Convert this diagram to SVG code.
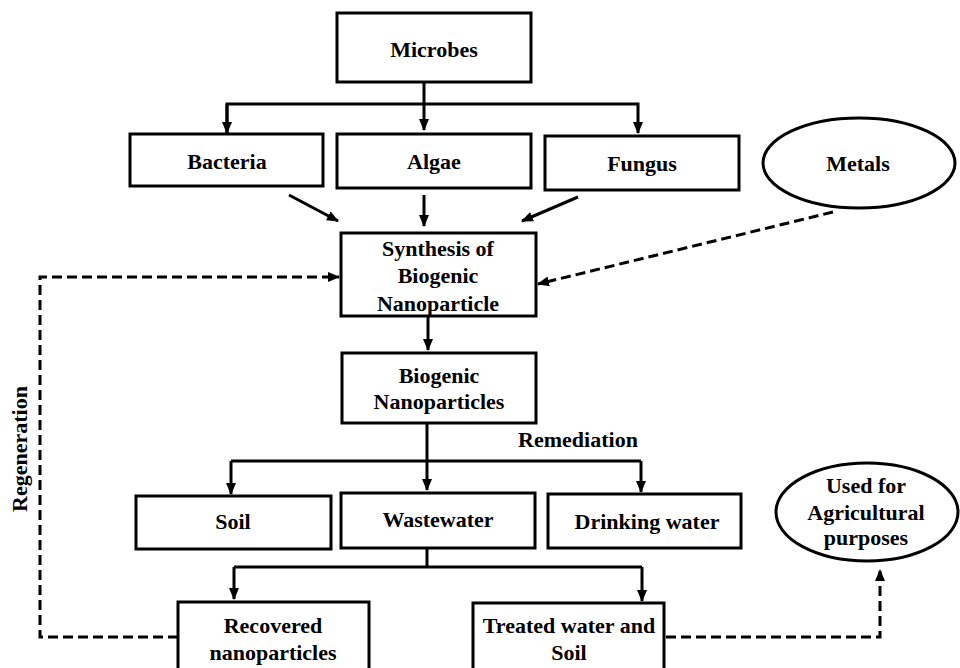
<svg xmlns="http://www.w3.org/2000/svg" width="960" height="668" viewBox="0 0 960 668">
<style>
.box{fill:#fff;stroke:#000;stroke-width:3}
.t{font-family:"Liberation Serif","Times New Roman",serif;font-weight:bold;font-size:22px;text-anchor:middle;fill:#000}
.c{fill:none;stroke:#000;stroke-width:3}
.d{fill:none;stroke:#000;stroke-width:3;stroke-dasharray:10 5}
</style>
<defs>
<marker id="ah" markerUnits="userSpaceOnUse" markerWidth="12" markerHeight="10" refX="11" refY="5" orient="auto">
<path d="M0,0 L12,5 L0,10 z" fill="#000"/>
</marker>
</defs>
<rect width="960" height="668" fill="#fff"/>
<g id="connectors">
<line class="c" x1="424" y1="82" x2="424" y2="130" marker-end="url(#ah)"/>
<polyline class="c" points="227,133 227,104 638,104 638,133" marker-end="url(#ah)"/>
<line class="c" x1="227" y1="104" x2="227" y2="133" marker-end="url(#ah)"/>
<line class="c" x1="289" y1="195" x2="338" y2="221" marker-end="url(#ah)"/>
<line class="c" x1="424" y1="195" x2="424" y2="226" marker-end="url(#ah)"/>
<line class="c" x1="578" y1="197" x2="522" y2="221" marker-end="url(#ah)"/>
<line class="d" x1="833" y1="212" x2="538" y2="284" marker-end="url(#ah)"/>
<line class="c" x1="428" y1="316" x2="428" y2="350" marker-end="url(#ah)"/>
<line class="c" x1="427" y1="423" x2="427" y2="490" marker-end="url(#ah)"/>
<line class="c" x1="231" y1="461" x2="641" y2="461"/>
<line class="c" x1="231" y1="461" x2="231" y2="494" marker-end="url(#ah)"/>
<line class="c" x1="641" y1="461" x2="641" y2="492" marker-end="url(#ah)"/>
<line class="c" x1="427" y1="548" x2="427" y2="567"/>
<line class="c" x1="234" y1="567" x2="642" y2="567"/>
<line class="c" x1="234" y1="567" x2="234" y2="599" marker-end="url(#ah)"/>
<line class="c" x1="642" y1="567" x2="642" y2="601" marker-end="url(#ah)"/>
<polyline class="d" points="178,637 40,637 40,277 339,277" marker-end="url(#ah)"/>
<polyline class="d" points="666,637 880,637 880,570" marker-end="url(#ah)"/>
</g>
<g id="microbes"><rect class="box" x="337" y="13" width="194" height="69"/><text class="t" x="434" y="57">Microbes</text></g>
<g id="bacteria"><rect class="box" x="130" y="134" width="193" height="52"/><text class="t" x="227" y="169">Bacteria</text></g>
<g id="algae"><rect class="box" x="337" y="134" width="194" height="54"/><text class="t" x="434" y="169">Algae</text></g>
<g id="fungus"><rect class="box" x="545" y="136" width="194" height="54"/><text class="t" x="642" y="171">Fungus</text></g>
<g id="metals"><ellipse class="box" cx="859" cy="163" rx="96" ry="45"/><text class="t" x="858" y="171">Metals</text></g>
<g id="synthesis"><rect class="box" x="341" y="233" width="195" height="83"/>
<text class="t" x="438" y="256">Synthesis of</text><text class="t" x="438" y="283">Biogenic</text><text class="t" x="438" y="311">Nanoparticle</text></g>
<g id="biogenic"><rect class="box" x="342" y="353" width="194" height="70"/>
<text class="t" x="439" y="383">Biogenic</text><text class="t" x="439" y="409">Nanoparticles</text></g>
<text class="t" x="578" y="447">Remediation</text>
<text class="t" transform="translate(27,449) rotate(-90)" x="0" y="0">Regeneration</text>
<g id="soil"><rect class="box" x="136" y="496" width="195" height="53"/><text class="t" x="233" y="529">Soil</text></g>
<g id="wastewater"><rect class="box" x="341" y="493" width="194" height="55"/><text class="t" x="438" y="527">Wastewater</text></g>
<g id="drinking"><rect class="box" x="548" y="494" width="193" height="54"/><text class="t" x="647" y="529">Drinking water</text></g>
<g id="agri"><ellipse class="box" cx="867" cy="512" rx="91" ry="49"/>
<text class="t" x="866" y="493">Used for</text><text class="t" x="866" y="520">Agricultural</text><text class="t" x="866" y="545">purposes</text></g>
<g id="recovered"><rect class="box" x="178" y="602" width="191" height="80"/>
<text class="t" x="273" y="633">Recovered</text><text class="t" x="273" y="660">nanoparticles</text></g>
<g id="treated"><rect class="box" x="473" y="603" width="191" height="80"/>
<text class="t" x="569" y="633">Treated water and</text><text class="t" x="569" y="660">Soil</text></g>
</svg>
